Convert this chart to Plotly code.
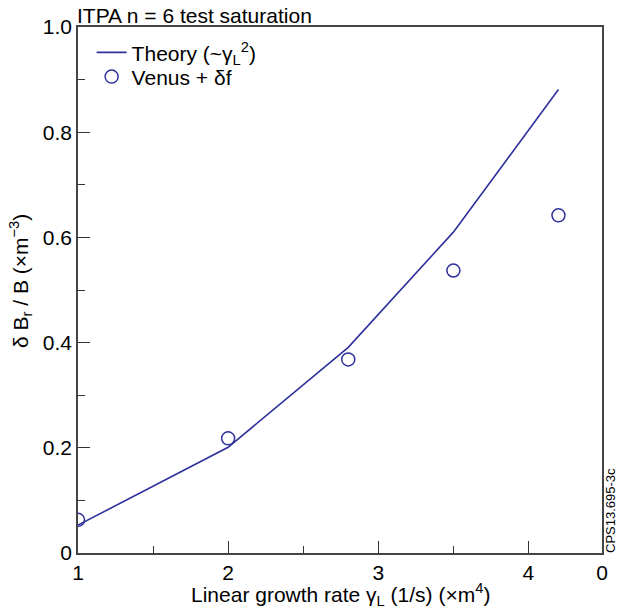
import plotly.graph_objects as go

growth_rate = [1.0, 2.0, 2.8, 3.5, 4.2]
theory = [0.053, 0.201, 0.391, 0.610, 0.881]
venus = [0.063, 0.218, 0.368, 0.537, 0.642]

x_tickvals = [1, 2, 3, 4, 4.49]
x_ticktext = ["1", "2", "3", "4", "0"]
y_tickvals = [0, 0.2, 0.4, 0.6, 0.8, 1.0]
y_ticktext = ["0", "0.2", "0.4", "0.6", "0.8", "1.0"]

blue = "#2e309c"
font = "Liberation Sans, Arial, sans-serif"

fig = go.Figure()
fig.add_trace(go.Scatter(
    x=growth_rate, y=theory, mode="lines",
    line=dict(color=blue, width=1.6),
    name="Theory (~γ<sub>L</sub><sup>2</sup>)", legend="legend",
))
fig.add_trace(go.Scatter(
    x=growth_rate, y=venus, mode="markers",
    marker=dict(symbol="circle-open", size=13, color=blue, line=dict(width=1.5, color=blue)),
    name="Venus + δf", legend="legend2",
))

leg_common = dict(xanchor="left", yanchor="top", bgcolor="rgba(0,0,0,0)",
                  font=dict(size=21), itemwidth=30)

fig.update_layout(
    width=620, height=613,
    margin=dict(l=78, r=13, t=27, b=60),
    paper_bgcolor="white", plot_bgcolor="white",
    font=dict(family=font, size=21, color="black"),
    showlegend=True,
    legend=dict(x=0.026, y=0.99, **leg_common),
    legend2=dict(x=0.026, y=0.944, **leg_common),
    annotations=[
        dict(text="ITPA n = 6 test saturation", xref="paper", yref="paper",
             x=0, y=1, xanchor="left", yanchor="bottom", showarrow=False,
             xshift=-3, yshift=-2, font=dict(size=21)),
        dict(text="CPS13.695-3c", xref="paper", yref="paper",
             x=1, y=0, xanchor="left", yanchor="bottom", showarrow=False,
             textangle=-90, xshift=-1, yshift=-2, font=dict(size=13)),
        dict(text="Linear growth rate γ<sub>L</sub> (1/s) (×m<sup>4</sup>)",
             xref="paper", yref="paper", x=0.5, y=0, xanchor="center", yanchor="middle",
             showarrow=False, yshift=-41, font=dict(size=21)),
        dict(text="δ B<sub>r</sub> / B (×m<sup>−3</sup>)",
             xref="paper", yref="paper", x=0, y=0.5, xanchor="center", yanchor="middle",
             showarrow=False, textangle=-90, xshift=-58, yshift=9, font=dict(size=21)),
    ],
)

fig.update_xaxes(
    range=[1, 4.49], tickvals=x_tickvals, ticktext=x_ticktext,
    ticks="inside", ticklen=12, tickwidth=1, tickcolor="#333",
    minor=dict(tickvals=[1.5, 2.5, 3.5], ticks="inside", ticklen=7, tickcolor="#333"),
    showline=True, linecolor="#444", linewidth=1.5, mirror=True,
    showgrid=False, zeroline=False,
    tickfont=dict(size=21),
)
fig.update_yaxes(
    range=[0, 1], tickvals=y_tickvals, ticktext=y_ticktext,
    ticks="inside", ticklen=12, tickwidth=1, tickcolor="#333",
    minor=dict(tickvals=[0.1, 0.3, 0.5, 0.7, 0.9], ticks="inside", ticklen=7, tickcolor="#333"),
    showline=True, linecolor="#444", linewidth=1.5, mirror=True,
    showgrid=False, zeroline=False,
    tickfont=dict(size=21),
)

fig.write_html("out.html")
